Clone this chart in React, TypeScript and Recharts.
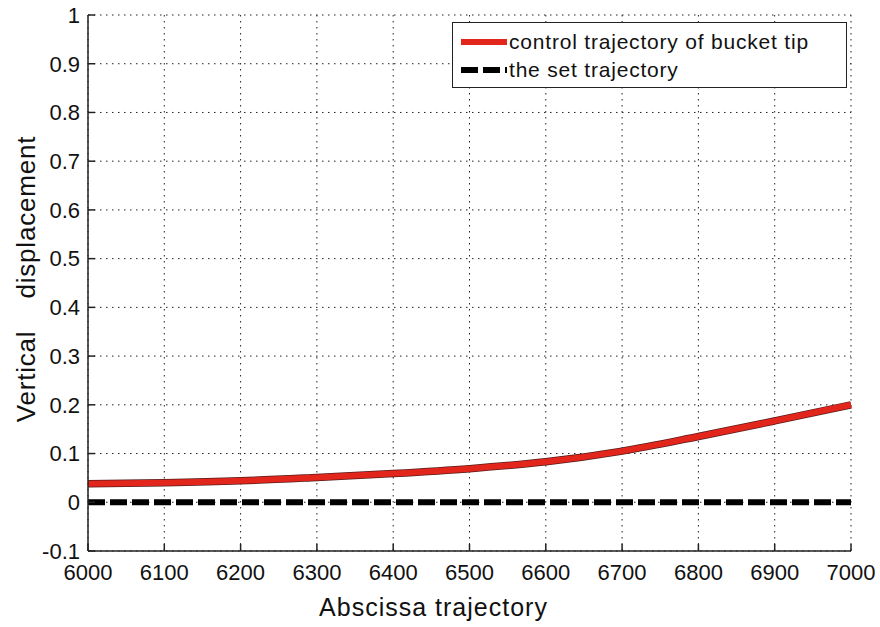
import { LineChart, Line, XAxis, YAxis, CartesianGrid } from "recharts";

const X_VALUES = [6000, 6100, 6200, 6300, 6400, 6500, 6600, 6700, 6800, 6900, 7000];
const CONTROL = [0.038, 0.040, 0.044, 0.051, 0.059, 0.069, 0.083, 0.105, 0.135, 0.167, 0.200];
const SET = [0, 0, 0, 0, 0, 0, 0, 0, 0, 0, 0];
const X_TICKS = [6000, 6100, 6200, 6300, 6400, 6500, 6600, 6700, 6800, 6900, 7000];
const Y_TICKS = [-0.1, 0, 0.1, 0.2, 0.3, 0.4, 0.5, 0.6, 0.7, 0.8, 0.9, 1];

const data = X_VALUES.map((x, i) => ({ x, control: CONTROL[i], set: SET[i] }));

const FONT = "'Liberation Sans', Arial, sans-serif";
const RED = "#e3261c";

function LegendBox() {
  return (
    <div style={{ position: "absolute", left: 452, top: 22, width: 395, height: 66, border: "1.5px solid #222", background: "#fff", boxSizing: "border-box", padding: "5px 0 0 8px", fontFamily: FONT, fontSize: 21, letterSpacing: 0.8, color: "#111", lineHeight: "28px" }}>
      <div style={{ display: "flex", alignItems: "center" }}>
        <svg width={46} height={10} style={{ marginRight: 2 }}><line x1={0} y1={5} x2={46} y2={5} stroke={RED} strokeWidth={6} /></svg>
        <span>control trajectory of bucket tip</span>
      </div>
      <div style={{ display: "flex", alignItems: "center" }}>
        <svg width={46} height={10} style={{ marginRight: 2 }}><line x1={0} y1={5} x2={46} y2={5} stroke="#000" strokeWidth={6} strokeDasharray="17 5" /></svg>
        <span>the set trajectory</span>
      </div>
    </div>
  );
}

function YLabel({ viewBox }: { viewBox?: { x: number; y: number; width: number; height: number } }) {
  if (!viewBox) return null;
  const cy = viewBox.y + viewBox.height / 2 - 4;
  return (
    <text x={26} y={cy} transform={`rotate(-90 26 ${cy})`} textAnchor="middle" dominantBaseline="central"
      style={{ whiteSpace: "pre", fontFamily: FONT, fontSize: 26, letterSpacing: 0.8, fill: "#111" }}>
      {"Vertical    displacement"}
    </text>
  );
}

function XLabel({ viewBox }: { viewBox?: { x: number; y: number; width: number; height: number } }) {
  if (!viewBox) return null;
  const cx = viewBox.x + viewBox.width / 2 - 36;
  return (
    <text x={cx} y={607} textAnchor="middle" dominantBaseline="central"
      style={{ fontFamily: FONT, fontSize: 25, letterSpacing: 1, fill: "#111" }}>
      Abscissa trajectory
    </text>
  );
}

export default function App() {
  return (
    <div style={{ position: "absolute", left: 0, top: 0, width: 880, height: 627, background: "#fff" }}>
      <LineChart width={880} height={627} data={data} margin={{ top: 15, right: 29, bottom: 0, left: 0 }}>
        <CartesianGrid stroke="#222" strokeDasharray="1.5 4.5" horizontalValues={Y_TICKS} verticalValues={X_TICKS} />
        <XAxis dataKey="x" type="number" domain={[6000, 7000]} ticks={X_TICKS} interval={0}
          height={76} tickSize={-7} tickMargin={20}
          axisLine={{ stroke: "#222", strokeWidth: 1.5 }} tickLine={{ stroke: "#222", strokeWidth: 1.5 }}
          tick={{ fontSize: 22, fill: "#111", fontFamily: FONT }}
          label={<XLabel />} />
        <XAxis xAxisId="top" orientation="top" dataKey="x" type="number" domain={[6000, 7000]} ticks={X_TICKS}
          height={0} tickSize={-7} tick={false} axisLine={{ stroke: "#222", strokeWidth: 1.5 }} tickLine={{ stroke: "#222", strokeWidth: 1.5 }} />
        <YAxis type="number" domain={[-0.1, 1]} ticks={Y_TICKS} interval={0} width={88}
          tickSize={-7} tickMargin={15}
          tickFormatter={(v: number) => (Math.abs(v) < 1e-9 ? "0" : String(Math.round(v * 10) / 10))}
          axisLine={{ stroke: "#222", strokeWidth: 1.5 }} tickLine={{ stroke: "#222", strokeWidth: 1.5 }}
          tick={{ fontSize: 22, fill: "#111", fontFamily: FONT }}
          label={<YLabel />} />
        <YAxis yAxisId="right" orientation="right" type="number" domain={[-0.1, 1]} ticks={Y_TICKS} width={0}
          tickSize={-7} tick={false} axisLine={{ stroke: "#222", strokeWidth: 1.5 }} tickLine={{ stroke: "#222", strokeWidth: 1.5 }} />
        <Line type="monotone" dataKey="set" stroke="#000" strokeWidth={6} strokeDasharray="17 5" dot={false} isAnimationActive={false} />
        <Line type="monotone" dataKey="control" stroke="#5a1c1c" strokeWidth={7.5} dot={false} isAnimationActive={false} />
        <Line type="monotone" dataKey="control" stroke={RED} strokeWidth={6} dot={false} isAnimationActive={false} />
      </LineChart>
      <LegendBox />
    </div>
  );
}
